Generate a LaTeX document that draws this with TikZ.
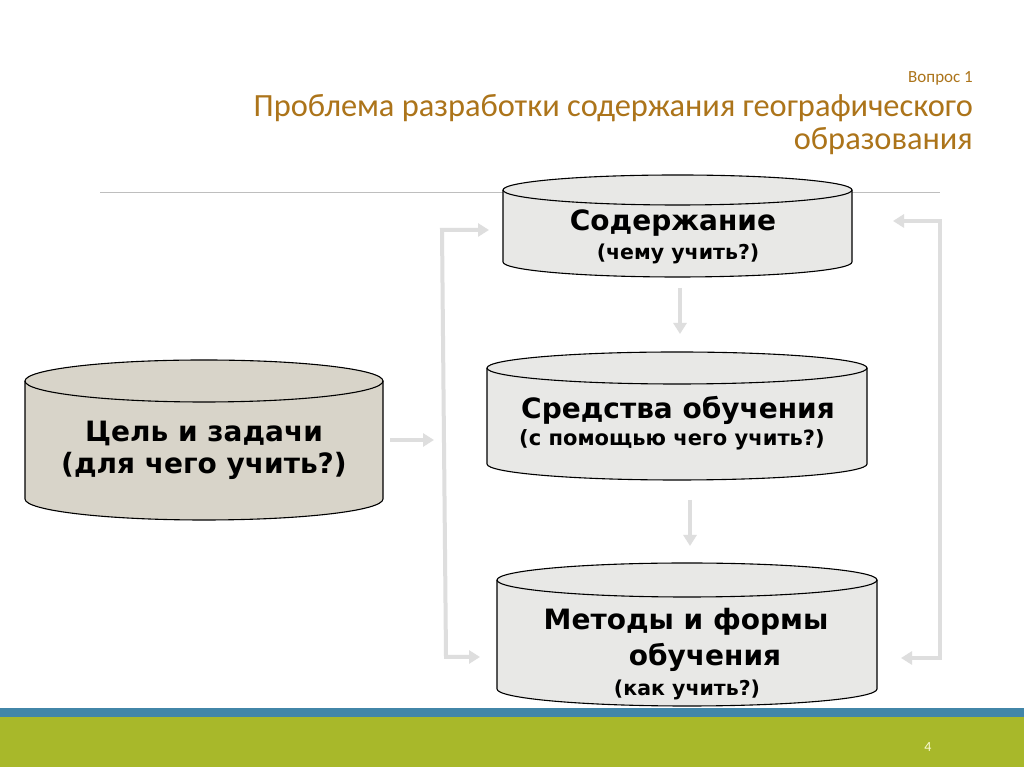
\documentclass[tikz,border=0pt]{standalone}
\usepackage{fontspec}
\setmainfont{DejaVu Sans}
\newfontfamily\titlefont{Carlito}
\usetikzlibrary{arrows.meta}
\definecolor{titlegold}{RGB}{172,116,26}
\definecolor{cylfill}{RGB}{232,232,230}
\definecolor{cylfilldark}{RGB}{216,212,201}
\definecolor{connGray}{RGB}{222,222,222}
\definecolor{footBlue}{RGB}{66,134,168}
\definecolor{footGreen}{RGB}{168,184,42}
\definecolor{rulegray}{RGB}{190,190,190}
\definecolor{pagenum}{RGB}{250,250,210}
\tikzset{
  x=1pt,y=1pt,
  conn/.style={draw=connGray,line width=4pt,-{Triangle[width=13pt,length=11pt]}},
  conn2/.style={draw=connGray,line width=4pt,{Triangle[width=13pt,length=11pt]}-{Triangle[width=13pt,length=11pt]}},
  cylline/.style={draw=black,line width=1.1pt},
  bigtxt/.style={font=\bfseries\fontsize{28}{31}\selectfont,inner sep=0pt},
  midtxt/.style={font=\bfseries\fontsize{20.5}{23}\selectfont,inner sep=0pt},
  ttl/.style={font=\titlefont\fontsize{32.4}{36}\selectfont,text=titlegold,inner sep=0pt,anchor=base east},
}
% #1 x1, #2 x2, #3 ytop, #4 ybot, #5 ry, #6 fill
\newcommand\mycyl[6]{%
  \pgfmathsetmacro\rxx{(#2-#1)/2}%
  \pgfmathsetmacro\cxx{(#2+#1)/2}%
  \fill[#6] (#1,#3) -- (#1,#4) arc[start angle=180,end angle=360,x radius=\rxx,y radius=#5]
     -- (#2,#3) arc[start angle=0,end angle=180,x radius=\rxx,y radius=#5] -- cycle;
  \draw[cylline] (#1,#3) -- (#1,#4) arc[start angle=180,end angle=360,x radius=\rxx,y radius=#5] -- (#2,#3);
  \draw[cylline] (\cxx,#3) ellipse[x radius=\rxx,y radius=#5];
}
\begin{document}
\begin{tikzpicture}
\useasboundingbox (0,0) rectangle (1024,767);
\fill[white] (0,0) rectangle (1024,767);
% footer
\fill[footBlue] (0,50) rectangle (1024,59);
\fill[footGreen] (0,0) rectangle (1024,50);
\node[font=\titlefont\fontsize{14}{16}\selectfont,text=pagenum] (pg) at (928,20) {4};
% title
\node[ttl,font=\titlefont\fontsize{17}{19}\selectfont] (q) at (973,684) {Вопрос 1};
\node[ttl] (t1) at (973,650) {Проблема разработки содержания географического};
\node[ttl] (t2) at (973,617) {образования};
% rule
\draw[rulegray,line width=0.8pt] (100,575) -- (940,575);
% cylinders
\mycyl{503}{852}{577}{505}{15}{cylfill}
\mycyl{487}{867}{399}{303}{16}{cylfill}
\mycyl{497}{877}{187}{78}{17}{cylfill}
\mycyl{25}{383}{386}{268}{21}{cylfilldark}
% texts
\node[bigtxt] (c1a) at (673,544) {Содержание};
\node[midtxt] (c1b) at (678,513) {(чему учить?)};
\node[bigtxt] (c2a) at (678,357) {Средства обучения};
\node[midtxt,font=\bfseries\fontsize{21}{24}\selectfont] (c2b) at (672,327) {(с помощью чего учить?)};
\node[bigtxt] (c0a) at (204,334) {Цель и задачи};
\node[bigtxt] (c0b) at (204,301) {(для чего учить?)};
\node[bigtxt] (c3a) at (686,145) {Методы и формы};
\node[bigtxt] (c3b) at (705,110) {обучения};
\node[midtxt] (c3c) at (687,77) {(как учить?)};
% connector coordinates
\coordinate (a0s) at (390,327);
\coordinate (a0e) at (434,327);
\coordinate (lbTe) at (489,537);
\coordinate (lbT) at (442,537);
\coordinate (lbB) at (446,110);
\coordinate (lbBe) at (480,110);
\coordinate (rbTe) at (893,546);
\coordinate (rbT) at (940,546);
\coordinate (rbB) at (940,109);
\coordinate (rbBe) at (901,109);
\coordinate (m1s) at (680,479);
\coordinate (m1e) at (680,433);
\coordinate (m2s) at (690,267);
\coordinate (m2e) at (690,221);
\draw[conn] (a0s) -- (a0e);
\draw[conn2] (lbTe) -- (lbT) -- (lbB) -- (lbBe);
\draw[conn2] (rbTe) -- (rbT) -- (rbB) -- (rbBe);
\draw[conn] (m1s) -- (m1e);
\draw[conn] (m2s) -- (m2e);
\end{tikzpicture}
\end{document}
